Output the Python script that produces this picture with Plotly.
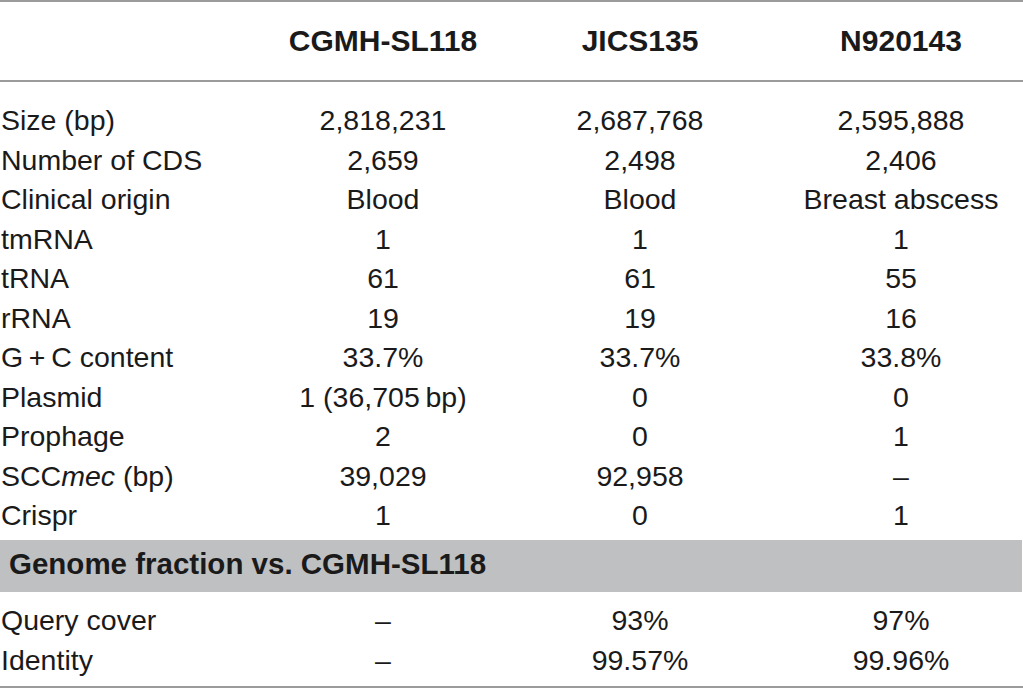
import plotly.graph_objects as go

# table content
strains = ["CGMH-SL118", "JICS135", "N920143"]
row_labels = [
    "Size (bp)",
    "Number of CDS",
    "Clinical origin",
    "tmRNA",
    "tRNA",
    "rRNA",
    "G\u2009+\u2009C content",
    "Plasmid",
    "Prophage",
    "SCC<i>mec</i> (bp)",
    "Crispr",
]
cgmh_sl118 = ["2,818,231", "2,659", "Blood", "1", "61", "19", "33.7%",
              "1 (36,705\u2009bp)", "2", "39,029", "1"]
jics135 = ["2,687,768", "2,498", "Blood", "1", "61", "19", "33.7%",
           "0", "0", "92,958", "0"]
n920143 = ["2,595,888", "2,406", "Breast abscess", "1", "55", "16", "33.8%",
           "0", "1", "\u2013", "1"]

section_title = "Genome fraction vs. CGMH-SL118"
compare_labels = ["Query cover", "Identity"]
cmp_cgmh_sl118 = ["\u2013", "\u2013"]
cmp_jics135 = ["93%", "99.57%"]
cmp_n920143 = ["97%", "99.96%"]

W, H = 1023, 689
FONT = "Liberation Sans"
TXT = "#1a1a1a"
RULE = "#9b9b9b"
BAND = "#bfc0c2"
BODY_SIZE = 28.5
HEAD_SIZE = 30
SECTION_SIZE = 29.5

col_x = [383, 640, 901]
label_x = 1
header_y = 43
first_row_y = 123
row_step = 39.5
band_top, band_bottom = 540, 592
section_y = 567
compare_y0 = 623

row_y = [first_row_y + i * row_step for i in range(len(row_labels))]
cmp_y = [compare_y0 + i * row_step for i in range(len(compare_labels))]

fig = go.Figure()

# header
fig.add_trace(go.Scatter(
    x=col_x, y=[header_y] * len(strains), text=[f"<b>{s}</b>" for s in strains],
    mode="text", textposition="middle center",
    textfont=dict(family=FONT, size=HEAD_SIZE, color=TXT), hoverinfo="skip",
))

# row labels
fig.add_trace(go.Scatter(
    x=[label_x] * (len(row_labels) + len(compare_labels)),
    y=row_y + cmp_y, text=row_labels + compare_labels,
    mode="text", textposition="middle right",
    textfont=dict(family=FONT, size=BODY_SIZE, color=TXT), hoverinfo="skip",
))

# values per strain
for cx, vals, cmp_vals in zip(col_x, [cgmh_sl118, jics135, n920143],
                              [cmp_cgmh_sl118, cmp_jics135, cmp_n920143]):
    fig.add_trace(go.Scatter(
        x=[cx] * (len(vals) + len(cmp_vals)), y=row_y + cmp_y, text=vals + cmp_vals,
        mode="text", textposition="middle center",
        textfont=dict(family=FONT, size=BODY_SIZE, color=TXT), hoverinfo="skip",
    ))

# section band
fig.add_shape(type="rect", xref="x", yref="y", x0=0, x1=W - 1, y0=band_top, y1=band_bottom,
              fillcolor=BAND, line_width=0, layer="below")
fig.add_trace(go.Scatter(
    x=[9], y=[section_y], text=[f"<b>{section_title}</b>"],
    mode="text", textposition="middle right",
    textfont=dict(family=FONT, size=SECTION_SIZE, color=TXT), hoverinfo="skip",
))

# rules
for yy in [1, 81, 687]:
    fig.add_shape(type="line", xref="x", yref="y", x0=0, x1=W, y0=yy, y1=yy,
                  line=dict(color=RULE, width=2))

fig.update_layout(
    width=W, height=H,
    margin=dict(l=0, r=0, t=0, b=0),
    paper_bgcolor="white", plot_bgcolor="white",
    showlegend=False,
    xaxis=dict(range=[0, W], visible=False, fixedrange=True),
    yaxis=dict(range=[H, 0], visible=False, fixedrange=True),
)

# drop the default page margin so the table sits flush in the window
fig.write_html("out.html", config={"displayModeBar": False},
               post_script="document.body.style.margin='0px';")
